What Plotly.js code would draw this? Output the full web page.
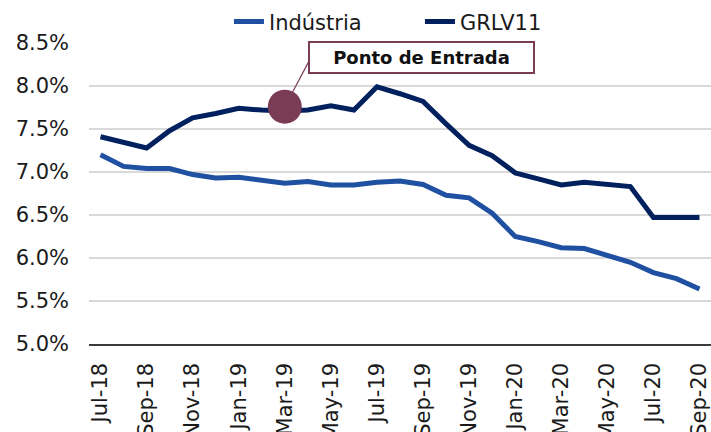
<!DOCTYPE html>
<html>
<head>
<meta charset="utf-8">
<script src="https://cdn.plot.ly/plotly-3.0.1.min.js"></script>
<style>html,body{margin:0;padding:0;background:#fff;}#chart{width:711px;height:432px;}</style>
</head>
<body>
<div id="chart"></div>
<script>
const categories = ["Jul-18","Aug-18","Sep-18","Oct-18","Nov-18","Dec-18","Jan-19","Feb-19","Mar-19","Apr-19","May-19","Jun-19","Jul-19","Aug-19","Sep-19","Oct-19","Nov-19","Dec-19","Jan-20","Feb-20","Mar-20","Apr-20","May-20","Jun-20","Jul-20","Aug-20","Sep-20"];
const industria = [7.20,7.065,7.04,7.04,6.97,6.93,6.94,6.90,6.87,6.89,6.85,6.85,6.88,6.895,6.855,6.73,6.70,6.52,6.25,6.19,6.12,6.11,6.03,5.95,5.83,5.76,5.64];
const grlv11 = [7.41,7.35,7.28,7.48,7.63,7.68,7.74,7.72,7.71,7.72,7.77,7.72,7.99,7.91,7.82,7.56,7.31,7.19,6.99,6.92,6.85,6.88,6.86,6.83,6.47,6.47,6.47];
const tickLabels = ["Jul-18","Sep-18","Nov-18","Jan-19","Mar-19","May-19","Jul-19","Sep-19","Nov-19","Jan-20","Mar-20","May-20","Jul-20","Sep-20"];
const entryCategory = ["Mar-19"];
const entryValue = [7.76];
const entryLabel = "Ponto de Entrada";

const FONT = "DejaVu Sans";
const traces = [
  {x: categories, y: industria, name: "Indústria", type: "scatter", mode: "lines",
   line: {color: "#1F50A2", width: 5}, hoverinfo: "skip"},
  {x: categories, y: grlv11, name: "GRLV11", type: "scatter", mode: "lines",
   line: {color: "#00205E", width: 5}, hoverinfo: "skip"},
  {x: entryCategory, y: entryValue, name: entryLabel, type: "scatter", mode: "markers",
   marker: {color: "#7A3B54", size: 34, line: {width: 0}}, showlegend: false, hoverinfo: "skip"}
];
const layout = {
  width: 711, height: 432,
  margin: {l: 89, r: 0, t: 43, b: 88},
  paper_bgcolor: "#fff", plot_bgcolor: "#fff",
  font: {family: FONT, color: "#1a1a1a", size: 21},
  showlegend: true,
  legend: {orientation: "h", x: 0.225, xanchor: "left", y: 1.07, yanchor: "middle",
           font: {family: FONT, size: 21, color: "#1a1a1a"}, bgcolor: "rgba(0,0,0,0)",
           tracegroupgap: 0, itemwidth: 30, entrywidth: 146, entrywidthmode: "pixels"},
  xaxis: {type: "category", categoryarray: categories, range: [-0.5, 26.5],
          tickmode: "array", tickvals: tickLabels, ticktext: tickLabels,
          tickangle: -90, tickfont: {family: FONT, size: 21, color: "#1a1a1a"},
          showgrid: false, showline: true, linecolor: "#3c3c3c", linewidth: 1.5,
          ticks: "", zeroline: false, automargin: false, ticklabelstandoff: 9, fixedrange: true},
  yaxis: {range: [5, 8.5], tick0: 5, dtick: 0.5, tickformat: ".1f", ticksuffix: "%",
          tickfont: {family: FONT, size: 21, color: "#1a1a1a"},
          showgrid: true, gridcolor: "#D9D9D9", gridwidth: 1.5, showline: false,
          zeroline: false, ticks: "", automargin: false, ticklabelstandoff: 19, fixedrange: true},
  annotations: [
    {x: entryCategory[0], y: entryValue[0], xref: "x", yref: "y", text: "",
     showarrow: true, arrowhead: 0, arrowwidth: 1.2, arrowcolor: "#7A3B54",
     ax: 25, ay: -47, standoff: 16},
    {x: entryCategory[0], y: entryValue[0], xref: "x", yref: "y",
     text: "<b>" + entryLabel + "</b>", showarrow: false,
     xanchor: "center", yanchor: "middle", xshift: 137, yshift: 49,
     font: {family: FONT, size: 18, color: "#111"},
     bordercolor: "#7A3B54", borderwidth: 2, borderpad: 1, bgcolor: "#fff",
     width: 221, height: 27}
  ]
};
Plotly.newPlot("chart", traces, layout, {displayModeBar: false, staticPlot: true});
</script>
</body>
</html>
